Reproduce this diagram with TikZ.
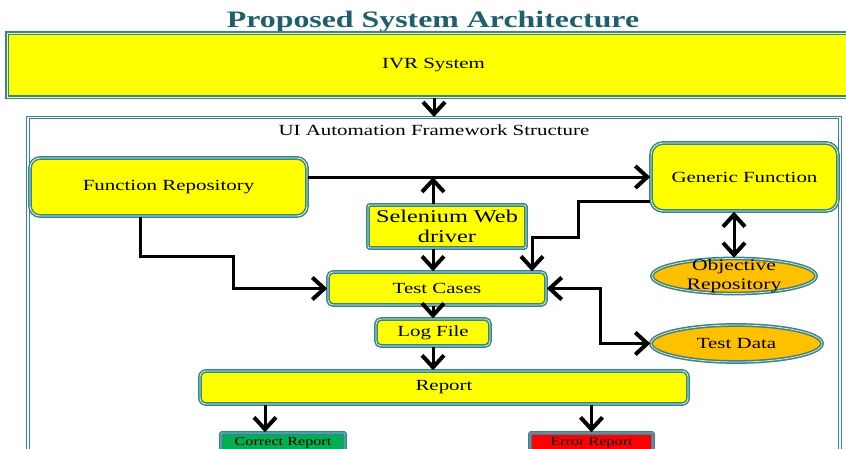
\documentclass[tikz,border=0pt]{standalone}
\usepackage{fontspec}
\setmainfont{Liberation Serif}[FakeStretch=1.35]
\usepackage{xcolor}
\usetikzlibrary{arrows.meta}
\usetikzlibrary{shapes.geometric}
\definecolor{frameteal}{HTML}{31849B}
\definecolor{titleteal}{HTML}{1F5F6B}
\definecolor{boxyellow}{HTML}{FFFF00}
\definecolor{ellorange}{HTML}{FFC000}
\definecolor{okgreen}{HTML}{00B050}
\definecolor{errred}{HTML}{FF0000}

\begin{document}
\begin{tikzpicture}[x=1pt,y=-1pt,>={Straight Barb[length=12pt,width=22pt,line width=4pt]}]
  \tikzset{block/.style = {shape=rectangle,draw=frameteal,fill=boxyellow,line width=1.5pt,double=yellow!45!white,double distance=0.8pt,inner sep=2pt,align=center,font=\fontsize{15.5}{19}\selectfont}}
  \tikzset{store/.style = {block,shape=ellipse,fill=ellorange,double=ellorange!50!white}}
  \tikzset{frame/.style = {shape=rectangle,draw=frameteal,line width=1pt,double=white,double distance=1.2pt}}
  \tikzset{conn/.style = {draw=black,line width=3pt}}

  \clip (0,0) rectangle (846,448);

  \node[font=\bfseries\fontsize{23.6}{28}\selectfont,text=titleteal] (title) at (433,22) {Proposed System Architecture};

  \node[block,minimum width=853pt,minimum height=64pt] (IVR) at (433.5,65) {IVR System};
  \node[frame,minimum width=812pt,minimum height=360pt,anchor=north] (FW) at (434,117) {};
  \node[font=\fontsize{15.5}{19}\selectfont] (FWtitle) at (434,130) {UI Automation Framework Structure};

  \node[block,rounded corners=10pt,minimum width=277pt,minimum height=58pt] (FR) at (168.5,187) {Function Repository};
  \node[block,rounded corners=12pt,minimum width=187pt,minimum height=68pt] (GF) at (744.5,177) {Generic Function};
  \node[block,rounded corners=2pt,minimum width=158pt,minimum height=43pt,font=\fontsize{18}{20}\selectfont] (SW) at (447,226.5) {Selenium Web\\driver};
  \node[block,rounded corners=5pt,minimum width=218pt,minimum height=33pt] (TC) at (437,288.5) {Test Cases};
  \node[block,rounded corners=5pt,minimum width=114pt,minimum height=27pt] (LF) at (433,332.5) {Log File};
  \node[block,rounded corners=6pt,minimum width=488pt,minimum height=33pt] (RP) at (444,387.5) {Report};

  \node[store,minimum width=164pt,minimum height=35pt,inner ysep=-5pt,font=\fontsize{16}{19}\selectfont] (OR) at (734,276) {Objective\\Repository};
  \node[store,minimum width=171pt,minimum height=37pt,inner ysep=-2pt] (TD) at (736.5,343.5) {Test Data};

  \node[block,fill=okgreen,double=okgreen!50!white,rounded corners=1pt,minimum width=124pt,minimum height=20pt,font=\fontsize{12}{14}\selectfont] (CR) at (283,443) {Correct Report};
  \node[block,fill=errred,double=errred!50!white,rounded corners=1pt,minimum width=123pt,minimum height=20pt,font=\fontsize{12}{14}\selectfont] (ER) at (591.5,443) {Error Report};

  % main column
  \draw[conn,->] (IVR.south -| FW.north) -- (FW.north);
  \draw[conn,->] (SW.north -| LF.north) -- (GF.west -| LF.north);
  \draw[conn,->] (SW.south -| LF.north) -- (TC.north -| LF.north);
  \draw[conn,->] (TC.south -| LF.north) -- (LF.north);
  \draw[conn,->] (LF.south) -- (RP.north -| LF.south);

  % side links
  \draw[conn,->] (FR.east |- GF.west) -- (GF.west);
  \draw[conn,->] ([xshift=-28pt]FR.south) |- (233,256) |- (TC.west);
  \draw[conn,->] ([yshift=-24pt]GF.west) -| (578,237) -| ([xshift=95pt]TC.north);
  \draw[conn,<->] (OR.north) -- (GF.south -| OR.north);
  \draw[conn,<->] (TC.east) -- ++(54,0) |- (TD.west);

  % reports
  \draw[conn,->] ([xshift=-18pt]CR.north |- RP.south) -- ([xshift=-18pt]CR.north);
  \draw[conn,->] (ER.north |- RP.south) -- (ER.north);

\end{tikzpicture}
\end{document}
